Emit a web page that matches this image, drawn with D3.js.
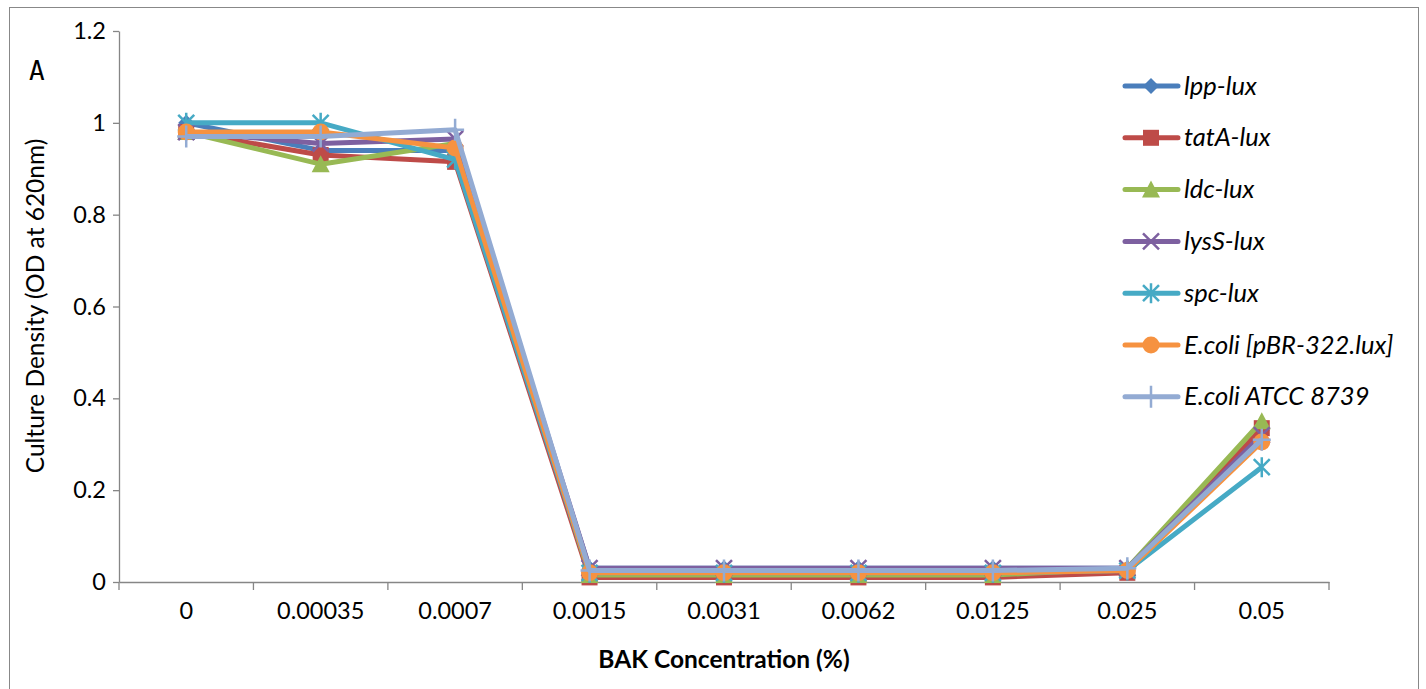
<!DOCTYPE html>
<html><head><meta charset="utf-8">
<script src="https://cdn.jsdelivr.net/npm/d3@7"></script>
<style>body{margin:0;background:#fff}svg{display:block}</style>
</head><body>
<script>
const categories = ["0","0.00035","0.0007","0.0015","0.0031","0.0062","0.0125","0.025","0.05"];
const yTicks = [0,0.2,0.4,0.6,0.8,1,1.2];
const seriesNames = ["lpp-lux","tatA-lux","ldc-lux","lysS-lux","spc-lux","E.coli [pBR-322.lux]","E.coli ATCC 8739"];
const lppLux   = [1.00,0.94,0.94,0.03,0.03,0.03,0.03,0.03,0.33];
const tatALux  = [0.98,0.93,0.915,0.01,0.01,0.01,0.01,0.02,0.335];
const ldcLux   = [0.98,0.91,0.955,0.015,0.015,0.015,0.015,0.03,0.35];
const lysSLux  = [0.98,0.955,0.965,0.03,0.03,0.03,0.03,0.03,0.32];
const spcLux   = [1.00,1.00,0.92,0.02,0.02,0.02,0.02,0.025,0.25];
const ecoliPBR = [0.98,0.98,0.945,0.02,0.02,0.02,0.02,0.025,0.305];
const ecoliATCC= [0.97,0.97,0.985,0.025,0.025,0.025,0.025,0.03,0.31];
const seriesValues = [lppLux,tatALux,ldcLux,lysSLux,spcLux,ecoliPBR,ecoliATCC];
const colors = ["#4A7EBB","#BE4B48","#98B954","#7D60A0","#46AAC5","#F69240","#93ABD3"];
const markers = ["diamond","square","triangle","x","asterisk","circle","plus"];

const W=1426,H=689;
const font="Lato, 'Open Sans', sans-serif";
const svg=d3.select("body").append("svg").attr("width",W).attr("height",H);
svg.append("rect").attr("x",9.5).attr("y",7.5).attr("width",1409).attr("height",690)
  .attr("fill","none").attr("stroke","#888").attr("stroke-width",1);

const x=d3.scaleBand().domain(categories).range([119,1329]);
const y=d3.scaleLinear().domain([0,1.2]).range([582,31]);

// y axis
const yAxis=svg.append("g").attr("transform","translate(119,0)")
  .call(d3.axisLeft(y).tickValues(yTicks).tickFormat(d3.format("~g")).tickSize(6).tickSizeOuter(0));
yAxis.select(".domain").attr("stroke","#868686").attr("stroke-width",1.3);
yAxis.selectAll(".tick line").attr("stroke","#868686").attr("stroke-width",1.3);
yAxis.selectAll(".tick text").attr("font-family",font).attr("font-size",23.5).attr("fill","#000").attr("x",-13);

// x axis
const xAxis=svg.append("g").attr("transform","translate(0,582)")
  .call(d3.axisBottom(x).tickSize(0).tickSizeOuter(0));
xAxis.select(".domain").attr("stroke","#868686").attr("stroke-width",1.3);
xAxis.selectAll(".tick text").attr("font-family",font).attr("font-size",23.5).attr("fill","#000").attr("dy","1.45em");
const bounds=categories.map(c=>x(c)).concat([x.range()[1]]);
xAxis.selectAll(".bt").data(bounds).enter().append("line")
  .attr("x1",d=>d).attr("x2",d=>d).attr("y1",0).attr("y2",8).attr("stroke","#868686").attr("stroke-width",1.3);

// titles
svg.append("text").attr("x",724).attr("y",668).attr("text-anchor","middle")
  .attr("font-family",font).attr("font-weight","bold").attr("font-size",24.5).text("BAK Concentration (%)");
svg.append("text").attr("transform","translate(44,306) rotate(-90)").attr("text-anchor","middle")
  .attr("font-family",font).attr("font-size",24.5).text("Culture Density (OD at 620nm)");
svg.append("text").attr("x",29).attr("y",80).attr("font-family","'DejaVu Sans Mono', monospace").attr("font-size",26).text("A");

function drawMarker(g,type,cx,cy,color){
  const s=8;
  if(type==="diamond") g.append("path").attr("d",`M${cx},${cy-s}L${cx+s},${cy}L${cx},${cy+s}L${cx-s},${cy}Z`).attr("fill",color);
  else if(type==="square") g.append("rect").attr("x",cx-8).attr("y",cy-8).attr("width",16).attr("height",16).attr("fill",color);
  else if(type==="triangle") g.append("path").attr("d",`M${cx},${cy-9}L${cx+9},${cy+8}L${cx-9},${cy+8}Z`).attr("fill",color);
  else if(type==="circle") g.append("circle").attr("cx",cx).attr("cy",cy).attr("r",8.5).attr("fill",color);
  else if(type==="x") g.append("path").attr("d",`M${cx-8},${cy-8}L${cx+8},${cy+8}M${cx+8},${cy-8}L${cx-8},${cy+8}`).attr("stroke",color).attr("stroke-width",2.5);
  else if(type==="asterisk") g.append("path").attr("d",`M${cx-8},${cy-8}L${cx+8},${cy+8}M${cx+8},${cy-8}L${cx-8},${cy+8}M${cx},${cy-10}L${cx},${cy+10}`).attr("stroke",color).attr("stroke-width",2.5);
  else if(type==="plus") g.append("path").attr("d",`M${cx},${cy-11}L${cx},${cy+11}M${cx-9},${cy}L${cx+9},${cy}`).attr("stroke",color).attr("stroke-width",2.5);
}

const line=d3.line().x((d,i)=>x(categories[i])+x.bandwidth()/2).y(d=>y(d));
seriesValues.forEach((vals,k)=>{
  const g=svg.append("g");
  g.append("path").datum(vals).attr("d",line).attr("fill","none").attr("stroke",colors[k])
    .attr("stroke-width",5).attr("stroke-linejoin","round");
  vals.forEach((v,i)=>drawMarker(g,markers[k],x(categories[i])+x.bandwidth()/2,y(v),colors[k]));
});

// legend
seriesNames.forEach((n,k)=>{
  const ly=86+k*51.8;
  const g=svg.append("g");
  g.append("line").attr("x1",1125).attr("x2",1178).attr("y1",ly).attr("y2",ly)
    .attr("stroke",colors[k]).attr("stroke-width",5).attr("stroke-linecap","round");
  drawMarker(g,markers[k],1151,ly,colors[k]);
  g.append("text").attr("x",1184).attr("y",ly+8.5).attr("font-family",font).attr("font-style","italic")
    .attr("font-size",25.5).text(n);
});
</script>
</body></html>
